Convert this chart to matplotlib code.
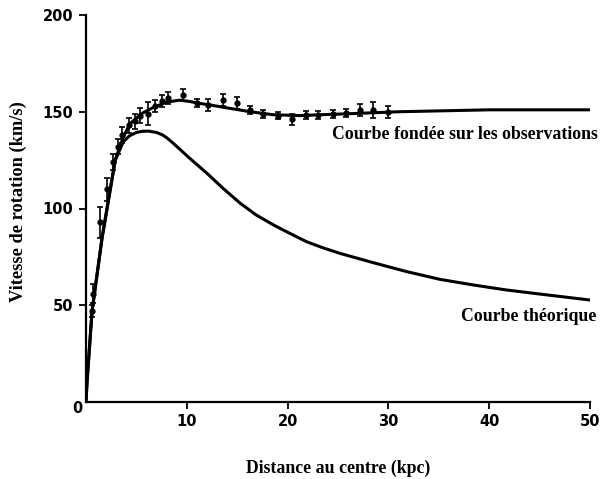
import matplotlib
matplotlib.use('Agg')
from matplotlib import pyplot as plt

# theoretical curve (kpc, km/s)
theory_r = [0, 0.1, 0.6, 1.6, 2.9, 3.7, 4.3, 5.0, 5.6, 6.2, 7.0, 7.6, 8.0, 8.66,
            10.3, 12.0, 13.6, 15.3, 16.9, 18.6, 20.2, 21.9, 23.5, 25.2, 28.5,
            31.8, 35.1, 38.4, 41.7, 45.0, 50.0]
theory_v = [0, 10, 47, 85, 125, 134.5, 137.5, 139.3, 139.9, 140, 139.3, 138, 136.6,
            133.7, 125.9, 118.2, 110.4, 102.7, 96.6, 91.5, 87.2, 82.8, 79.7, 76.8,
            72.0, 67.4, 63.4, 60.5, 57.9, 55.8, 52.7]

# curve fitted on the observations
obs_r = [0, 0.1, 0.6, 1.6, 2.9, 3.7, 4.4, 5.5, 6.6, 8.0, 9.3, 10.3, 11.3, 12.3, 14.0,
         16.3, 18.5, 21.2, 23.5, 26.2, 31.0, 40.0, 50.0]
obs_v = [0, 10, 47, 85, 125, 137, 144, 149, 152, 155, 156, 155.3, 154.3, 153.5, 152,
         150, 148.5, 148, 148.5, 149, 150, 151, 151]

# measured points with error bars
pts_r = [0.6, 0.7, 1.4, 2.1, 2.7, 3.2, 3.6, 4.3, 4.9, 5.4, 6.2, 6.8, 7.5, 8.1, 9.6,
         11.0, 12.1, 13.6, 15.0, 16.3, 17.6, 19.0, 20.4, 21.8, 23.0, 24.5, 25.8,
         27.2, 28.5, 30.0]
pts_v = [47, 56, 93, 110, 124, 132, 138, 143, 145, 148, 149, 153, 155.5, 157, 158.5,
         154.5, 153.5, 156, 154.5, 151, 149, 148, 146, 148.5, 148.5, 149, 149.5,
         151, 151, 150]
pts_err = [3, 5, 8, 6, 4, 4, 4, 4, 4, 4, 6, 3, 3, 3, 3,
           2, 3, 3, 3, 2, 2, 2, 3, 2, 2, 2, 2, 3, 4, 3]

x_ticks = [10, 20, 30, 40, 50]
y_ticks = [50, 100, 150, 200]

SERIF = 'Liberation Serif'
SANS = 'DejaVu Sans'

fig = plt.figure(figsize=(6, 4.79), dpi=100)
ax = fig.add_axes([86 / 600, 1 - 402 / 479, 504 / 600, 387 / 479])

ax.plot(theory_r, theory_v, color='black', lw=2.2, solid_joinstyle='round')
ax.plot(obs_r, obs_v, color='black', lw=2.2, solid_joinstyle='round')
ax.errorbar(pts_r, pts_v, yerr=pts_err, fmt='o', color='black', ms=3.5,
            elinewidth=1.2, capsize=2.5, capthick=1.2)

ax.set_xlim(0, 50)
ax.set_ylim(0, 200)
ax.set_xticks(x_ticks)
ax.set_yticks(y_ticks)
for s in ['top', 'right']:
    ax.spines[s].set_visible(False)
for s in ['left', 'bottom']:
    ax.spines[s].set_linewidth(1.6)
ax.tick_params(direction='out', length=5, width=1.3, pad=4)
for lab in ax.get_xticklabels() + ax.get_yticklabels():
    lab.set_fontfamily(SANS)
    lab.set_fontweight('bold')
    lab.set_fontsize(10.5)
ax.text(-0.85, -3.6, '0', ha='center', va='center', family=SANS,
        fontweight='bold', fontsize=10.5, clip_on=False)

ax.set_xlabel('Distance au centre (kpc)', family=SERIF, fontweight='bold',
              fontsize=12.8, labelpad=22)
ax.set_ylabel('Vitesse de rotation (km/s)', family=SERIF, fontweight='bold',
              fontsize=13.2)
ax.yaxis.set_label_coords(-0.118, 0.517)

ax.text(50.8, 138, 'Courbe fondée sur les observations', ha='right', va='center',
        family=SERIF, fontweight='bold', fontsize=12.8, clip_on=False)
ax.text(50.6, 44, 'Courbe théorique', ha='right', va='center',
        family=SERIF, fontweight='bold', fontsize=12.8, clip_on=False)

fig.savefig('out.png', dpi=100)
